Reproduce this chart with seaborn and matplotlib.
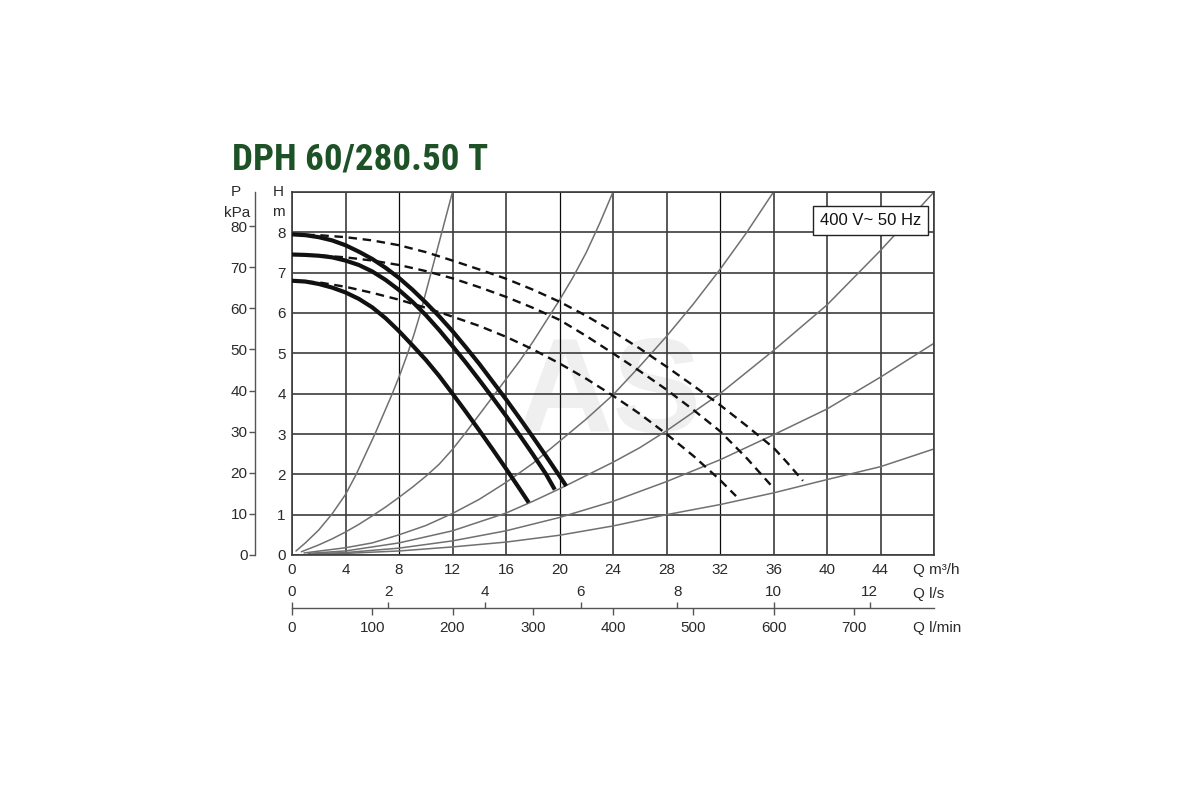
import pandas as pd
import seaborn as sns
import matplotlib.pyplot as plt
import matplotlib.font_manager as fm

# Pump curves, Q in m3/h and H in m (solid = working range)
q_solid_1 = [0, 1, 2, 3, 4, 5, 6, 7, 8, 9, 10, 11, 12, 13, 14, 15, 16, 17, 18, 19, 20, 20.5]
h_solid_1 = [7.95, 7.93, 7.88, 7.8, 7.68, 7.52, 7.34, 7.12, 6.87, 6.58, 6.26, 5.92, 5.55,
             5.15, 4.74, 4.3, 3.86, 3.4, 2.93, 2.45, 1.96, 1.71]
q_solid_2 = [0, 1, 2, 3, 4, 5, 6, 7, 8, 9, 10, 11, 12, 13, 14, 15, 16, 17, 18, 19, 19.65]
h_solid_2 = [7.45, 7.44, 7.42, 7.38, 7.3, 7.19, 7.03, 6.82, 6.57, 6.28, 5.95, 5.58, 5.18,
             4.77, 4.34, 3.9, 3.45, 2.98, 2.5, 2.0, 1.62]
q_solid_3 = [0, 1, 2, 3, 4, 5, 6, 7, 8, 9, 10, 11, 12, 13, 14, 15, 16, 17, 17.7]
h_solid_3 = [6.8, 6.78, 6.72, 6.63, 6.51, 6.35, 6.14, 5.87, 5.55, 5.2, 4.84, 4.44, 4.0,
             3.55, 3.09, 2.62, 2.14, 1.65, 1.3]

# dashed continuations
q_dash_1 = [0, 2, 4, 6, 8, 10, 12, 14, 16, 18, 20, 22, 24, 26, 28, 30, 32, 34, 36, 37, 38.2]
h_dash_1 = [7.95, 7.93, 7.88, 7.8, 7.68, 7.51, 7.3, 7.08, 6.85, 6.58, 6.28, 5.93, 5.54,
            5.12, 4.67, 4.2, 3.72, 3.2, 2.66, 2.3, 1.84]
q_dash_2 = [0, 2, 4, 6, 8, 10, 12, 14, 16, 18, 20, 22, 24, 26, 28, 30, 32, 34, 36]
h_dash_2 = [7.45, 7.43, 7.38, 7.3, 7.19, 7.04, 6.86, 6.64, 6.4, 6.13, 5.83, 5.43, 5.0,
            4.56, 4.1, 3.6, 3.07, 2.4, 1.66]
q_dash_3 = [0, 2, 4, 6, 8, 10, 12, 14, 16, 18, 20, 22, 24, 26, 28, 30, 32, 33.2]
h_dash_3 = [6.8, 6.76, 6.65, 6.5, 6.33, 6.13, 5.91, 5.68, 5.41, 5.1, 4.75, 4.37, 3.95,
            3.5, 3.0, 2.46, 1.86, 1.46]

# system curves (thin grey)
q_sys_1 = [0.3, 1, 2, 3, 4, 4.8, 5.5, 6.2, 6.85, 7.5, 8.1, 8.65, 9.15, 9.6, 10.0, 10.4,
           10.8, 11.2, 11.6, 12.0]
h_sys_1 = [0.1, 0.3, 0.62, 1.02, 1.5, 2.0, 2.5, 3.0, 3.5, 4.0, 4.5, 5.0, 5.5, 6.0, 6.5, 7.0,
           7.5, 8.0, 8.5, 9.0]
q_sys_2 = [0.7, 2, 3, 4, 5, 6, 7, 8, 9, 10, 11, 12, 13, 14, 15, 16, 17, 18, 19, 20, 21,
           22, 23, 24]
h_sys_2 = [0.08, 0.25, 0.4, 0.57, 0.76, 0.97, 1.19, 1.43, 1.68, 1.95, 2.25, 2.62, 3.04,
           3.48, 3.92, 4.36, 4.8, 5.28, 5.8, 6.32, 6.88, 7.5, 8.22, 9.0]
q_sys_3 = [0.9, 4, 6, 8, 10, 12, 14, 16, 18, 20, 22, 24, 26, 28, 30, 32, 34, 36]
h_sys_3 = [0.05, 0.18, 0.3, 0.5, 0.73, 1.03, 1.38, 1.8, 2.27, 2.82, 3.37, 3.97, 4.68, 5.42,
           6.22, 7.08, 8.0, 9.0]
q_sys_4 = [1.2, 4, 8, 12, 16, 18, 20, 22, 24, 26, 28, 32, 36, 40, 44, 48]
h_sys_4 = [0.04, 0.1, 0.3, 0.6, 1.04, 1.33, 1.64, 1.97, 2.3, 2.66, 3.08, 4.0, 5.07, 6.2,
           7.55, 9.0]
q_sys_5 = [1.6, 4, 8, 12, 16, 20, 24, 28, 32, 36, 40, 44, 48]
h_sys_5 = [0.03, 0.06, 0.17, 0.35, 0.6, 0.93, 1.33, 1.82, 2.36, 2.98, 3.62, 4.41, 5.25]
q_sys_6 = [2.2, 4, 8, 12, 16, 20, 24, 28, 32, 36, 40, 44, 48]
h_sys_6 = [0.03, 0.04, 0.1, 0.2, 0.32, 0.49, 0.72, 1.0, 1.25, 1.54, 1.87, 2.19, 2.63]

q_ticks = [0, 4, 8, 12, 16, 20, 24, 28, 32, 36, 40, 44]
h_ticks = [0, 1, 2, 3, 4, 5, 6, 7, 8]
p_ticks = [0, 10, 20, 30, 40, 50, 60, 70, 80]
ls_ticks = [0, 2, 4, 6, 8, 10, 12]
lmin_ticks = [0, 100, 200, 300, 400, 500, 600, 700]

sns.set_theme(style='white')
plt.rcParams['font.family'] = ['Liberation Sans', 'DejaVu Sans']
txt = '#2a2a2a'
grid_c = '#3c3c3c'

fig = plt.figure(figsize=(12, 8), dpi=100)
W, H = 1200.0, 800.0
ax = fig.add_axes([292 / W, 245 / H, 642 / W, 363 / H])
ax.set_xlim(0, 48)
ax.set_ylim(0, 9)
ax.set_axisbelow(True)

# watermark
ax.text(23.7, 3.9, 'AS', fontsize=96, fontweight='bold', color='#efefef',
        ha='center', va='center', zorder=0.2)

for q, h in [(q_sys_1, h_sys_1), (q_sys_2, h_sys_2), (q_sys_3, h_sys_3),
             (q_sys_4, h_sys_4), (q_sys_5, h_sys_5), (q_sys_6, h_sys_6)]:
    sns.lineplot(x=q, y=h, ax=ax, color='#707070', lw=1.1, sort=False,
                 estimator=None, zorder=2)

for q, h in [(q_dash_1, h_dash_1), (q_dash_2, h_dash_2), (q_dash_3, h_dash_3)]:
    sns.lineplot(x=q, y=h, ax=ax, color='#111111', lw=1.7, sort=False,
                 estimator=None, linestyle=(0, (3.6, 2.4)), zorder=3)

for q, h in [(q_solid_1, h_solid_1), (q_solid_2, h_solid_2), (q_solid_3, h_solid_3)]:
    sns.lineplot(x=q, y=h, ax=ax, color='#111111', lw=3.0, sort=False,
                 estimator=None, zorder=4, solid_capstyle='butt',
                 solid_joinstyle='round')

ax.set_xticks(q_ticks + [48])
ax.set_xticklabels([str(v) for v in q_ticks] + [''])
ax.set_yticks(h_ticks + [9])
ax.set_yticklabels([str(v) for v in h_ticks] + [''])
ax.grid(True, color=grid_c, lw=1.2)
# every third vertical line is drawn thinner and black in the original
for i, gl in enumerate(ax.xaxis.get_gridlines()):
    if i in (2, 5, 8):
        gl.set_color('#0a0a0a')
        gl.set_linewidth(0.9)
ax.tick_params(axis='both', length=0, labelsize=11, colors=txt)
ax.tick_params(axis='x', pad=6)
ax.tick_params(axis='y', pad=4.5)
for s in ax.spines.values():
    s.set_color(grid_c)
    s.set_linewidth(1.2)
ax.set_xlabel('')
ax.set_ylabel('')

# pressure axis on the left
axp = ax.twinx()
axp.set_ylim(0, 9 * 9.81)
axp.yaxis.set_ticks_position('left')
axp.spines['left'].set_visible(True)
axp.spines['left'].set_position(('outward', 26.6))
axp.spines['left'].set_color('#555555')
axp.spines['left'].set_linewidth(1.0)
for k in ['right', 'top', 'bottom']:
    axp.spines[k].set_visible(False)
axp.set_yticks(p_ticks)
axp.set_yticklabels([str(v) for v in p_ticks])
axp.tick_params(axis='y', direction='out', length=4.5, width=1.0, color='#555555',
                labelsize=11, colors=txt, pad=1)
axp.tick_params(axis='y', which='both', left=True, labelleft=True, right=False,
                labelright=False)

# flow scales in l/s and l/min
axl = fig.add_axes([292 / W, 1 - 608 / H, 642 / W, 0.0001])
axl.set_xlim(0, 48 * 1000 / 60)
axl.set_yticks([])
for k in ['left', 'right', 'top']:
    axl.spines[k].set_visible(False)
axl.spines['bottom'].set_color('#555555')
axl.spines['bottom'].set_linewidth(1.0)
axl.set_xticks(lmin_ticks)
axl.set_xticklabels([str(v) for v in lmin_ticks])
axl.tick_params(axis='x', direction='out', length=5, width=1.0, color='#555555',
                labelsize=11, colors=txt, pad=4.5)

axs = axl.twiny()
axs.set_xlim(0, 48 / 3.6)
axs.set_yticks([])
for s in axs.spines.values():
    s.set_visible(False)
axs.set_xticks(ls_ticks)
axs.set_xticklabels([str(v) for v in ls_ticks])
axs.tick_params(axis='x', direction='out', length=4.5, width=1.0, color='#555555',
                labelsize=11, colors=txt, pad=2)

# box with supply
ax.text(43.25, 8.3, '400 V~ 50 Hz', fontsize=12, color='#111111', ha='center',
        va='center', zorder=6,
        bbox=dict(boxstyle='square,pad=0.42', fc='white', ec='#222222', lw=1.0))

# axis captions
fig.text(236 / W, 1 - 192 / H, 'P', fontsize=11, color=txt, ha='center', va='center')
fig.text(237 / W, 1 - 213 / H, 'kPa', fontsize=11, color=txt, ha='center', va='center')
fig.text(278 / W, 1 - 192 / H, 'H', fontsize=11, color=txt, ha='center', va='center')
fig.text(278 / W, 1 - 212 / H, 'm', fontsize=11, color=txt, ha='center', va='center')
fig.text(913 / W, 1 - 570 / H, 'Q m\u00b3/h', fontsize=11, color=txt, ha='left', va='center')
fig.text(913 / W, 1 - 594 / H, 'Q l/s', fontsize=11, color=txt, ha='left', va='center')
fig.text(913 / W, 1 - 628 / H, 'Q l/min', fontsize=11, color=txt, ha='left', va='center')

# title - want a narrow bold face, fall back to whatever is there
names = {f.name for f in fm.fontManager.ttflist}
title_kw = {'family': ['Liberation Sans', 'DejaVu Sans']}
for cand in ['Roboto Condensed', 'Liberation Sans Narrow', 'Open Sans Condensed',
             'Noto Sans Condensed']:
    if cand in names:
        title_kw = {'family': [cand, 'DejaVu Sans']}
        break
else:
    cond = [f for f in fm.fontManager.ttflist
            if f.name == 'DejaVu Sans' and 'ondensed' in str(f.stretch)]
    if cond:
        title_kw = {'family': ['DejaVu Sans'], 'fontstretch': 'condensed'}

ttl = fig.text(232 / W, 1 - 170 / H, 'DPH 60/280.50 T', fontsize=29, fontweight='bold',
               color='#1c5226', ha='left', va='baseline', **title_kw)
rend = fig.canvas.get_renderer()
tw = ttl.get_window_extent(rend).width
ttl.set_fontsize(29 * 256 / tw)

fig.savefig('out.png', dpi=100, facecolor='white')
